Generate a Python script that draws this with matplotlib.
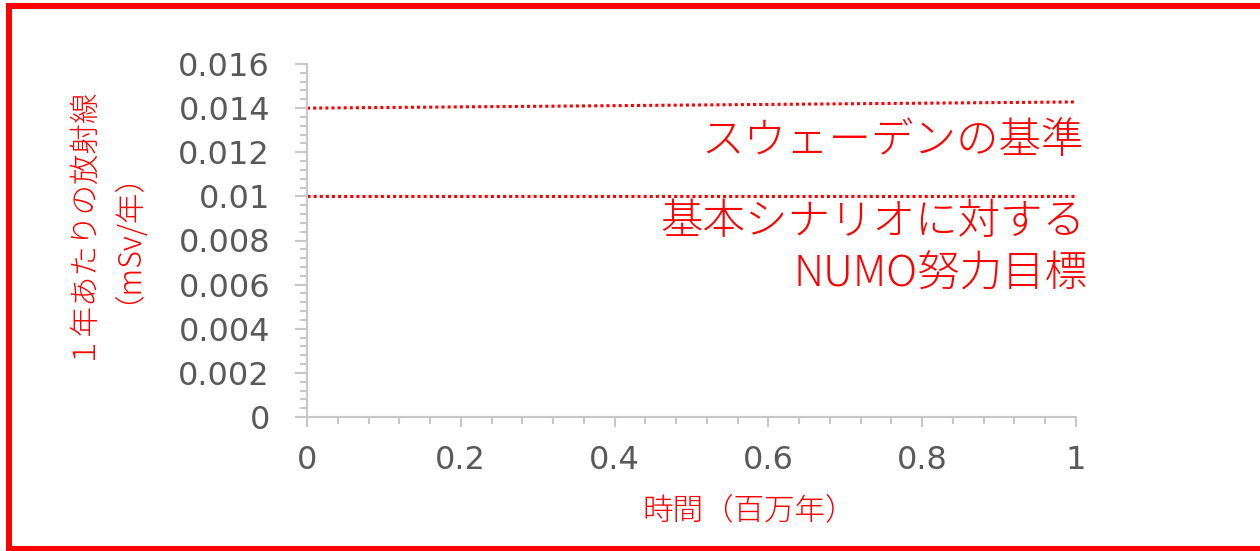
import matplotlib
matplotlib.use("Agg")
import matplotlib.pyplot as plt
from matplotlib.lines import Line2D
from matplotlib.ticker import MultipleLocator

# data
x_vals = [0, 1]
sweden_line = [0.014, 0.01428]
numo_line = [0.01, 0.01]
sweden_label = "スウェーデンの基準"
numo_label = ["基本シナリオに対する", "NUMO努力目標"]
xlabel = "時間（百万年）"
ylabel = "１年あたりの放射線\n（mSv/年）"
ytick_vals = [0, 0.002, 0.004, 0.006, 0.008, 0.01, 0.012, 0.014, 0.016]
ytick_labels = ["0", "0.002", "0.004", "0.006", "0.008", "0.01", "0.012", "0.014", "0.016"]
xtick_vals = [0, 0.2, 0.4, 0.6, 0.8, 1]
xtick_labels = ["0", "0.2", "0.4", "0.6", "0.8", "1"]

W, H = 1260, 551
fig = plt.figure(figsize=(W / 100, H / 100), dpi=100)
ax = fig.add_axes([307 / W, 1 - 417 / H, (1076 - 307) / W, (417 - 64) / H])

red = "#FF0000"
gray_axis = "#C8C8C8"
gray_text = "#595959"
cjk = ["Noto Sans CJK JP", "DejaVu Sans"]
cjk_w = 300

ax.plot(x_vals, sweden_line, color=red, lw=2.2, linestyle=(0, (1, 1)), solid_capstyle="butt", clip_on=False)
ax.plot(x_vals, numo_line, color=red, lw=2.2, linestyle=(0, (1, 1)), solid_capstyle="butt", clip_on=False)

ax.set_xlim(0, 1)
ax.set_ylim(0, 0.016)
ax.set_yticks(ytick_vals)
ax.set_yticklabels(ytick_labels)
ax.set_xticks(xtick_vals)
ax.set_xticklabels(xtick_labels)
ax.yaxis.set_minor_locator(MultipleLocator(0.0004))
ax.xaxis.set_minor_locator(MultipleLocator(0.04))

for s in ["top", "right"]:
    ax.spines[s].set_visible(False)
for s in ["left", "bottom"]:
    ax.spines[s].set_color(gray_axis)
    ax.spines[s].set_linewidth(1.5)

ax.tick_params(axis="y", which="major", length=8.6, width=1.5, color=gray_axis, pad=18,
               labelsize=23, labelcolor=gray_text)
ax.tick_params(axis="y", which="minor", length=5, width=1.5, color=gray_axis)
ax.tick_params(axis="x", which="major", length=7.5, width=1.5, color=gray_axis, pad=13,
               labelsize=23, labelcolor=gray_text)
ax.tick_params(axis="x", which="minor", length=5, width=1.5, color=gray_axis)
for lab in ax.get_xticklabels() + ax.get_yticklabels():
    lab.set_fontfamily("DejaVu Sans")

# annotations
fig.text(1084 / W, 1 - 141 / H, sweden_label, ha="right", va="center", color=red,
         fontsize=30.6, family=cjk, fontweight=cjk_w)
fig.text(1085 / W, 1 - 222 / H, numo_label[0], ha="right", va="center", color=red,
         fontsize=30.6, family=cjk, fontweight=cjk_w)
fig.text(1088 / W, 1 - 275 / H, numo_label[1], ha="right", va="center", color=red,
         fontsize=30.6, family=cjk, fontweight=cjk_w)

# axis labels
fig.text(749 / W, 1 - 510 / H, xlabel, ha="center", va="center", color=red, fontsize=22,
         family=cjk, fontweight=cjk_w)
fig.text(95 / W, 1 - 222 / H, ylabel, ha="center", va="center", color=red, fontsize=22,
         family=cjk, fontweight=cjk_w, rotation=90, linespacing=0.98, multialignment="center")

# red border
bw = 4.3
fig.add_artist(Line2D([9 / W, 9 / W], [1 - 6 / H, 1 - 549 / H], color=red, lw=bw, transform=fig.transFigure))
fig.add_artist(Line2D([9 / W, 1.01], [1 - 6 / H, 1 - 6 / H], color=red, lw=bw, transform=fig.transFigure))
fig.add_artist(Line2D([9 / W, 1.01], [1 - 549 / H, 1 - 549 / H], color=red, lw=bw, transform=fig.transFigure))

fig.savefig("out.png", dpi=100)
